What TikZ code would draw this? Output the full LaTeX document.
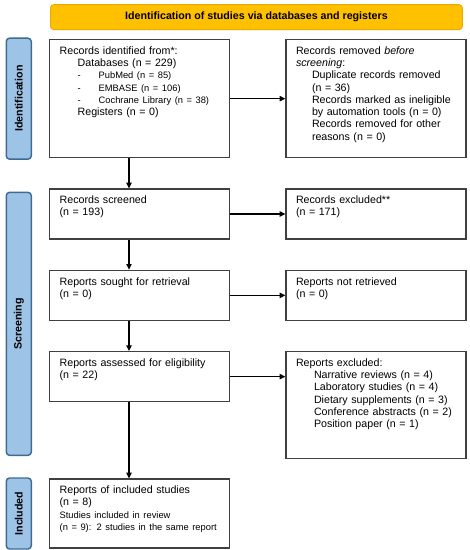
\documentclass[tikz,border=0pt]{standalone}
\usepackage{fontspec}
\setmainfont{Liberation Sans}
\usetikzlibrary{positioning, calc, arrows.meta}
\definecolor{bannerfill}{HTML}{FFC000}
\definecolor{bannerline}{HTML}{E8AA00}
\definecolor{sidefill}{HTML}{9DC3E6}
\definecolor{sideline}{HTML}{3F6B93}
\definecolor{boxline}{HTML}{404040}
\tikzstyle{rbox}=[rectangle, draw=boxline, line width=1pt, text width=120pt,
                  align=left, inner xsep=7.5pt, inner ysep=4pt, text height=7pt,
                  % The rest
                  font=\fontsize{8}{9.2}\selectfont]
\tikzstyle{side}=[rectangle, rounded corners=2.5pt, draw=sideline, line width=1.1pt,
                  fill=sidefill, rotate=90, minimum height=18.75pt, inner sep=0pt,
                  font=\fontsize{8}{9.6}\selectfont\bfseries]
\tikzstyle{banner}=[rectangle, rounded corners=2.5pt, draw=bannerline, line width=0.6pt,
                  fill=bannerfill, minimum width=309pt, minimum height=18.75pt,
                  font=\fontsize{8}{9.6}\selectfont\bfseries]
\tikzstyle{arr}=[-{Triangle[length=4.2pt,width=4pt]}, line width=0.8pt]
\newcommand{\sm}{\fontsize{7}{8.75}\selectfont}
\newcommand{\ind}{\hspace*{13.5pt}}
\newcommand{\dbl}[1]{\ind\makebox[15.75pt][l]{-}#1}

\begin{document}
\begin{tikzpicture}
  \useasboundingbox (0,0) rectangle (351.75pt,-412.5pt);

  % Identification row
  \node[rbox, text depth=73.5pt, anchor=north west] (rid) at (36.75pt,-29.25pt)
    {Records identified from*:\\
     \ind Databases (n = 229)\\
     {\sm\dbl{PubMed (n = 85)}}\\
     {\sm\dbl{EMBASE (n = 106)}}\\
     {\sm\dbl{Cochrane Library (n = 38)}}\\
     \ind Registers (n = 0)};
  \node[rbox, text depth=73.5pt, right = 41.25pt of rid] (rrm)
    {Records removed \textit{before}\\
     \textit{screening}:\\
     \hspace*{12pt}Duplicate records removed\\
     \hspace*{12pt}(n = 36)\\
     \hspace*{12pt}Records marked as ineligible\\
     \hspace*{12pt}by automation tools (n = 0)\\
     \hspace*{12pt}Records removed for other\\
     \hspace*{12pt}reasons (n = 0)};
  \node[banner, above = 6.75pt of rid.north west, anchor=south west, xshift=0.75pt] (ttl)
    {Identification of studies via databases and registers};

  % Screening rows
  \node[rbox, text depth=22.5pt, below = 22.5pt of rid] (scr) {Records screened\\(n = 193)};
  \node[rbox, text depth=22.5pt, right = 41.25pt of scr] (rexc) {Records excluded**\\(n = 171)};
  \node[rbox, text depth=22.5pt, below = 22.5pt of scr] (srt) {Reports sought for retrieval\\(n = 0)};
  \node[rbox, text depth=22.5pt, right = 41.25pt of srt] (nrt) {Reports not retrieved\\(n = 0)};
  \node[rbox, text depth=22.5pt, below = 22.5pt of srt] (ass) {Reports assessed for eligibility\\(n = 22)};
  \node[rbox, text depth=65.25pt, right = 41.25pt of ass.north east, anchor=north west] (rex)
    {Reports excluded:\\
     \ind Narrative reviews (n = 4)\\
     \ind Laboratory studies (n = 4)\\
     \ind Dietary supplements (n = 3)\\
     \ind Conference abstracts (n = 2)\\
     \ind Position paper (n = 1)};

  % Included row
  \node[rbox, text depth=36.75pt, below = 57pt of ass] (inc)
    {Reports of included studies\\
     (n = 8)\\
     {\sm Studies included in review}\\
     {\sm (n = 9): 2 studies in the same report}};

  % Phase labels
  \coordinate (smid) at ($(scr.north west)!0.5!(scr.west |- rex.south)$);
  \node[side, anchor=south, minimum width=90.75pt] (lid) at ([xshift=-12.75pt]rid.west) {Identification};
  \node[side, anchor=south, minimum width=197.25pt] (lscr) at ([xshift=-12.75pt]smid) {Screening};
  \node[side, anchor=south, minimum width=53.25pt] (linc) at ([xshift=-12.75pt]inc.west) {Included};

  % Arrows
  \draw[arr] (rid) -- (rrm);
  \draw[arr] (scr) -- (rexc);
  \draw[arr] (srt) -- (nrt);
  \draw[arr] (ass.east) -- (ass.east -| rex.west);
  \draw[arr] ([xshift=60pt]rid.south west) -- ([xshift=60pt]scr.north west);
  \draw[arr] ([xshift=60pt]scr.south west) -- ([xshift=60pt]srt.north west);
  \draw[arr] ([xshift=60pt]srt.south west) -- ([xshift=60pt]ass.north west);
  \draw[arr] ([xshift=60pt]ass.south west) -- ([xshift=60pt]inc.north west);
\end{tikzpicture}
\end{document}
